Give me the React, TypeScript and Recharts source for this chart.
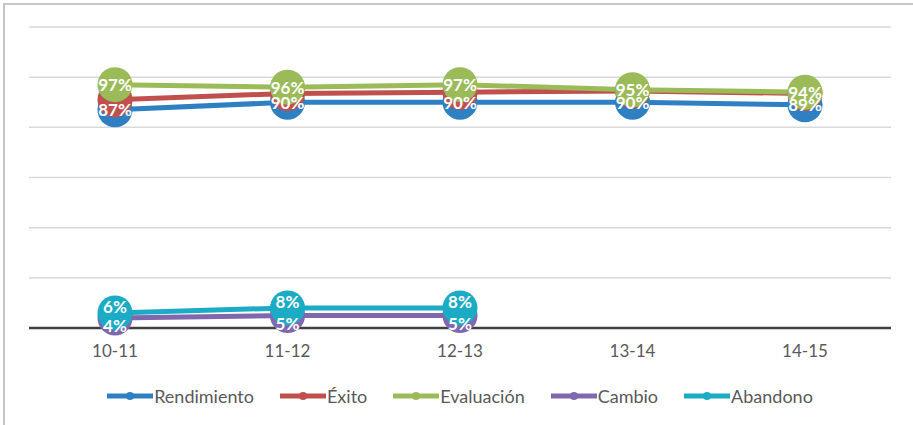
import React from 'react';
import { LineChart, Line, XAxis, YAxis, CartesianGrid, Legend, LabelList } from 'recharts';

const categories = ['10-11', '11-12', '12-13', '13-14', '14-15'];
const rendimiento = [0.87, 0.9, 0.9, 0.9, 0.89];
const exito = [0.91, 0.935, 0.94, 0.945, 0.935];
const evaluacion = [0.97, 0.96, 0.97, 0.95, 0.94];
const cambio: (number | null)[] = [0.04, 0.05, 0.05, null, null];
const abandono: (number | null)[] = [0.06, 0.08, 0.08, null, null];
const yTicks = [0, 0.2, 0.4, 0.6, 0.8, 1.0, 1.2];

const seriesInfo = [
  { key: 'rendimiento', name: 'Rendimiento', color: '#2E80C3' },
  { key: 'exito', name: 'Éxito', color: '#C0504D' },
  { key: 'evaluacion', name: 'Evaluación', color: '#9BBB59' },
  { key: 'cambio', name: 'Cambio', color: '#7F68AE' },
  { key: 'abandono', name: 'Abandono', color: '#1BABC4' },
];

const data = categories.map((c, i) => ({
  name: c,
  rendimiento: rendimiento[i],
  exito: exito[i],
  evaluacion: evaluacion[i],
  cambio: cambio[i],
  abandono: abandono[i],
}));

const FONT = 'Lato, "Open Sans", sans-serif';

const makeLabel = (dy: number) => (props: any) => {
  const { x, y, value } = props;
  if (value == null || x == null || y == null) return null;
  return (
    <text
      x={x}
      y={y + dy}
      textAnchor="middle"
      dominantBaseline="central"
      fill="#ffffff"
      fontWeight={700}
      fontSize={17}
      fontFamily={FONT}
    >
      {Math.round(value * 100) + '%'}
    </text>
  );
};

const LegendContent = () => (
  <div
    style={{
      display: 'flex',
      justifyContent: 'center',
      alignItems: 'center',
      fontFamily: FONT,
      fontSize: 18,
      color: '#595959',
    }}
  >
    {seriesInfo.map((s, i) => (
      <div
        key={s.key}
        style={{ display: 'flex', alignItems: 'center', marginLeft: i === 0 ? 0 : 26 }}
      >
        <svg width={46} height={12} style={{ marginRight: 1 }}>
          <line x1={0} y1={6} x2={46} y2={6} stroke={s.color} strokeWidth={5} strokeLinecap="round" />
          <circle cx={23} cy={6} r={4} fill={s.color} />
        </svg>
        <span>{s.name}</span>
      </div>
    ))}
  </div>
);

export default function App() {
  return (
    <div style={{ position: 'absolute', left: 0, top: 0, width: 913, height: 425, background: '#fff' }}>
      <div
        style={{
          position: 'absolute',
          left: 3,
          top: 3,
          width: 910,
          height: 422,
          borderTop: '2px solid #c3c7c7',
          borderLeft: '2px solid #c3c7c7',
          boxSizing: 'border-box',
        }}
      />
      <div style={{ position: 'absolute', left: 0, top: 0 }}>
        <LineChart
          width={913}
          height={425}
          data={data}
          margin={{ top: 27, right: 22, bottom: 67, left: 29 }}
        >
          <CartesianGrid vertical={false} stroke="#d9d9d9" strokeWidth={1.5} />
          <XAxis
            dataKey="name"
            padding={{ left: 86, right: 86 }}
            axisLine={{ stroke: '#404040', strokeWidth: 2.5 }}
            tickLine={false}
            tickMargin={11}
            height={30}
            tick={{ fill: '#595959', fontSize: 17, fontFamily: FONT }}
          />
          <YAxis hide domain={[0, 1.2]} ticks={yTicks} />
          {seriesInfo.map((s) => (
            <Line
              key={s.key}
              dataKey={s.key}
              name={s.name}
              stroke={s.color}
              strokeWidth={5}
              dot={{ r: 17.5, fill: s.color, stroke: 'none' }}
              activeDot={false}
              isAnimationActive={false}
              connectNulls={false}
            />
          ))}
          {seriesInfo
            .filter((s) => s.key !== 'exito')
            .map((s) => (
              <Line
                key={s.key + '-labels'}
                dataKey={s.key}
                stroke="none"
                dot={false}
                activeDot={false}
                legendType="none"
                isAnimationActive={false}
              >
                <LabelList
                  dataKey={s.key}
                  content={makeLabel(s.key === 'cambio' ? 8 : s.key === 'abandono' ? -6 : 0)}
                />
              </Line>
            ))}
          <Legend
            layout="horizontal"
            verticalAlign="middle"
            content={<LegendContent />}
            wrapperStyle={{ top: 385, left: 29, width: 862 }}
          />
        </LineChart>
      </div>
    </div>
  );
}
